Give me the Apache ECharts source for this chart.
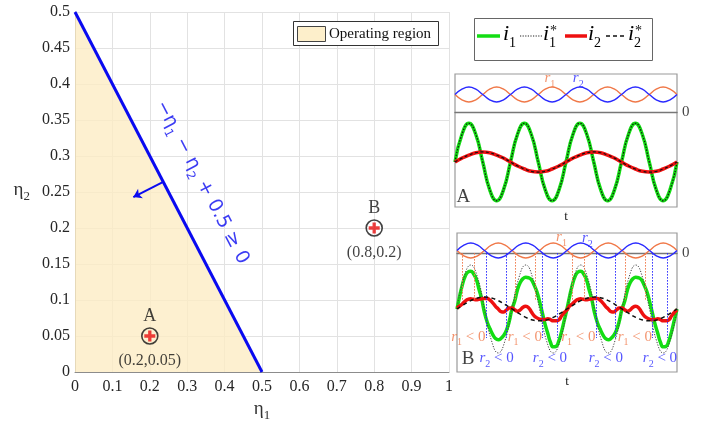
<!DOCTYPE html>
<html><head><meta charset="utf-8">
<script src="https://cdn.jsdelivr.net/npm/echarts@6/dist/echarts.min.js"></script>
<style>html,body{margin:0;padding:0;background:#fff}#c{width:701px;height:426px}</style>
</head><body><div id="c"></div>
<script>
// ---------------- main chart data ----------------
const boundaryEta1 = [0, 0.5];
const boundaryEta2 = [0.5, 0];
const normalArrow = [[0.236, 0.264], [0.156, 0.243]];
const pointNames = ['A', 'B'];
const pointEta1 = [0.2, 0.8];
const pointEta2 = [0.05, 0.2];

// ---------------- inset data (time in periods of i1*) ----------------
const tCoarse = [0,0.125,0.25,0.375,0.5,0.625,0.75,0.875,1,1.125,1.25,1.375,1.5,1.625,1.75,1.875,2,2.125,2.25,2.375,2.5,2.625,2.75,2.875,3,3.125,3.25,3.375,3.5,3.625,3.75,3.875,4];
// case A
const r1A = [1.75,1.22,1.0,1.22,1.75,2.28,2.5,2.28,1.75,1.22,1.0,1.22,1.75,2.28,2.5,2.28,1.75,1.22,1.0,1.22,1.75,2.28,2.5,2.28,1.75,1.22,1.0,1.22,1.75,2.28,2.5,2.28,1.75];
const r2A = [1.75,2.28,2.5,2.28,1.75,1.22,1.0,1.22,1.75,2.28,2.5,2.28,1.75,1.22,1.0,1.22,1.75,2.28,2.5,2.28,1.75,1.22,1.0,1.22,1.75,2.28,2.5,2.28,1.75,1.22,1.0,1.22,1.75];
const i1A = [0,0.71,1,0.71,0,-0.71,-1,-0.71,0,0.71,1,0.71,0,-0.71,-1,-0.71,0,0.71,1,0.71,0,-0.71,-1,-0.71,0,0.71,1,0.71,0,-0.71,-1,-0.71,0];
const i1RefA = [0,0.71,1,0.71,0,-0.71,-1,-0.71,0,0.71,1,0.71,0,-0.71,-1,-0.71,0,0.71,1,0.71,0,-0.71,-1,-0.71,0,0.71,1,0.71,0,-0.71,-1,-0.71,0];
const i2A = [0,0.10,0.18,0.24,0.26,0.24,0.18,0.10,0,-0.10,-0.18,-0.24,-0.26,-0.24,-0.18,-0.10,0,0.10,0.18,0.24,0.26,0.24,0.18,0.10,0,-0.10,-0.18,-0.24,-0.26,-0.24,-0.18,-0.10,0];
const i2RefA = [0,0.10,0.18,0.24,0.26,0.24,0.18,0.10,0,-0.10,-0.18,-0.24,-0.26,-0.24,-0.18,-0.10,0,0.10,0.18,0.24,0.26,0.24,0.18,0.10,0,-0.10,-0.18,-0.24,-0.26,-0.24,-0.18,-0.10,0];
// case B
const r1B = [0.25,-0.28,-0.5,-0.28,0.25,0.78,1.0,0.78,0.25,-0.28,-0.5,-0.28,0.25,0.78,1.0,0.78,0.25,-0.28,-0.5,-0.28,0.25,0.78,1.0,0.78,0.25,-0.28,-0.5,-0.28,0.25,0.78,1.0,0.78,0.25];
const r2B = [0.25,0.78,1.0,0.78,0.25,-0.28,-0.5,-0.28,0.25,0.78,1.0,0.78,0.25,-0.28,-0.5,-0.28,0.25,0.78,1.0,0.78,0.25,-0.28,-0.5,-0.28,0.25,0.78,1.0,0.78,0.25,-0.28,-0.5,-0.28,0.25];
const i1RefB = [0,0.71,1,0.71,0,-0.71,-1,-0.71,0,0.71,1,0.71,0,-0.71,-1,-0.71,0,0.71,1,0.71,0,-0.71,-1,-0.71,0,0.71,1,0.71,0,-0.71,-1,-0.71,0];
const i2RefB = [0,0.10,0.19,0.25,0.27,0.25,0.19,0.10,0,-0.10,-0.19,-0.25,-0.27,-0.25,-0.19,-0.10,0,0.10,0.19,0.25,0.27,0.25,0.19,0.10,0,-0.10,-0.19,-0.25,-0.27,-0.25,-0.19,-0.10,0];
const tFine = [0,0.05,0.1,0.15,0.2,0.25,0.3,0.35,0.4,0.45,0.5,0.55,0.6,0.65,0.7,0.75,0.8,0.85,0.9,0.95,
  1,1.05,1.1,1.15,1.2,1.25,1.3,1.35,1.4,1.45,1.5,1.55,1.6,1.65,1.7,1.75,1.8,1.85,1.9,1.95,
  2,2.05,2.1,2.15,2.2,2.25,2.3,2.35,2.4,2.45,2.5,2.55,2.6,2.65,2.7,2.75,2.8,2.85,2.9,2.95,
  3,3.05,3.1,3.15,3.2,3.25,3.3,3.35,3.4,3.45,3.5,3.55,3.6,3.65,3.7,3.75,3.8,3.85,3.9,3.95,4];
const i1B = [0,0.30,0.56,0.75,0.84,0.86,0.80,0.68,0.45,0.22,-0.08,-0.30,-0.45,-0.58,-0.67,-0.70,-0.67,-0.60,-0.48,-0.28,
  0,0.18,0.44,0.60,0.69,0.72,0.71,0.67,0.55,0.40,0.18,-0.08,-0.34,-0.55,-0.76,-0.86,-0.85,-0.73,-0.52,-0.26,
  0,0.30,0.56,0.75,0.84,0.86,0.80,0.68,0.45,0.22,-0.08,-0.30,-0.45,-0.58,-0.67,-0.70,-0.67,-0.60,-0.48,-0.28,
  0,0.18,0.44,0.60,0.69,0.72,0.71,0.67,0.55,0.40,0.18,-0.08,-0.34,-0.55,-0.76,-0.86,-0.85,-0.73,-0.52,-0.26,0];
const i2B = [0.02,0.07,0.12,0.18,0.22,0.23,0.22,0.21,0.22,0.23,0.24,0.24,0.20,0.14,0.06,0,-0.06,-0.07,-0.02,0.02,
  0.02,-0.02,-0.05,-0.02,0.04,0.06,0.03,-0.06,-0.15,-0.20,-0.23,-0.24,-0.24,-0.22,-0.24,-0.27,-0.27,-0.25,-0.16,-0.08,
  -0.02,0.07,0.12,0.18,0.22,0.23,0.22,0.21,0.22,0.23,0.24,0.24,0.20,0.14,0.06,0,-0.06,-0.07,-0.02,0.02,
  0.02,-0.02,-0.05,-0.02,0.04,0.06,0.03,-0.06,-0.15,-0.20,-0.23,-0.24,-0.24,-0.22,-0.24,-0.27,-0.27,-0.25,-0.16,-0.08,-0.02];
// intervals (t) where r1 < 0 and r2 < 0 in case B
const r1NegB = [[0.10,0.31],[1.05,1.42],[2.10,2.31],[3.05,3.42]];
const r2NegB = [[0.54,0.90],[1.55,1.83],[2.54,2.87],[3.55,3.83]];

// ---------------- styling ----------------
const SERIF = 'Liberation Serif';
const SANS = 'DejaVu Sans';
const BLUE = '#0a0af0', GREEN = '#13dd13', RED = '#ee1010', ORANGE = '#f07848', RBLUE = '#2a2aff';
const zip = (a, b) => a.map((v, i) => [v, b[i]]);
function tok(size, color, family, italic, pb) {
  return {fontSize: size, color: color, fontFamily: family, fontStyle: italic ? 'italic' : 'normal',
          verticalAlign: 'bottom', padding: [0, 0, pb || 0, 0]};
}
function subTok(size, color, family) {
  return {fontSize: size, color: color, fontFamily: family, verticalAlign: 'bottom', padding: [0, 0, 0, 0]};
}
function rLabelRich(color, size) {
  return {r: tok(size, color, SERIF, true, 3), s: subTok(Math.round(size * 0.68), color, SERIF), n: tok(size, color, SERIF, false, 3)};
}
function textPoint(grid, x, y, formatter, label, z) {
  return {type: 'scatter', xAxisIndex: grid, yAxisIndex: grid, symbolSize: 0, clip: false, silent: true, z: z || 6,
          data: [[x, y]], label: Object.assign({show: true, position: 'inside', formatter: formatter}, label)};
}
function hiddenX(grid, extra) {
  return Object.assign({gridIndex: grid, type: 'value', min: 0, max: 4, axisLine: {show: false}, axisTick: {show: false},
    axisLabel: {show: false}, splitLine: {show: false}}, extra || {});
}
function hiddenY(grid, min, max) {
  return {gridIndex: grid, type: 'value', min: min, max: max, show: false, splitLine: {show: false}};
}

const chart = echarts.init(document.getElementById('c'), null, {renderer: 'canvas'});

const series = [];
// ---- main chart ----
series.push({
  type: 'line', xAxisIndex: 0, yAxisIndex: 0, data: zip(boundaryEta1, boundaryEta2), symbol: 'none', z: 3,
  lineStyle: {color: BLUE, width: 3}, areaStyle: {color: '#fcecc4', opacity: 0.8, origin: 'start'},
  markLine: {silent: true, symbol: ['none', 'arrow'], symbolSize: 8, label: {show: false},
    lineStyle: {color: BLUE, width: 2, type: 'solid'},
    data: [[{coord: normalArrow[0]}, {coord: normalArrow[1]}]]}
});
series.push({
  type: 'scatter', xAxisIndex: 0, yAxisIndex: 0, data: zip(pointEta1, pointEta2), symbol: 'circle', symbolSize: 16, z: 5,
  itemStyle: {color: 'rgba(0,0,0,0)', borderColor: '#111', borderWidth: 1.6},
  label: {show: true, position: 'top', distance: 2, formatter: p => pointNames[p.dataIndex],
          fontFamily: SERIF, fontSize: 18, color: '#111'}
});
series.push({
  type: 'scatter', xAxisIndex: 0, yAxisIndex: 0, data: zip(pointEta1, pointEta2), z: 6,
  symbol: 'path://M3.5,0H6.5V3.5H10V6.5H6.5V10H3.5V6.5H0V3.5H3.5Z', symbolSize: 11,
  itemStyle: {color: '#e81010'},
  label: {show: true, position: 'bottom', distance: 11, formatter: p => '(' + p.value[0] + ',' + p.value[1] + ')',
          fontFamily: SERIF, fontSize: 16, color: '#111'}
});
series.push(textPoint(0, 0.335, 0.262, '{a|−η}{s|1}{a| − η}{s|2}{a| + 0.5 ≥ 0}', {
  rotate: -62.5,
  rich: {a: tok(19, BLUE, SANS, false, 4), s: subTok(12, BLUE, SANS)}
}));

// ---- inset A ----
const lineBase = (xi, x, y, color, width, type, z) => ({
  type: 'line', xAxisIndex: xi, yAxisIndex: xi, data: zip(x, y), symbol: 'none', smooth: 0.5, z: z,
  lineStyle: {color: color, width: width, type: type || 'solid'}, silent: true
});
series.push(lineBase(2, tCoarse, r1A, ORANGE, 1.4, 'solid', 3));
series.push(lineBase(2, tCoarse, r2A, RBLUE, 1.4, 'solid', 3));
series.push(lineBase(1, tCoarse, i1A, GREEN, 3.5, 'solid', 3));
series.push(lineBase(1, tCoarse, i1RefA, '#111', 1.2, [1.5, 1.5], 4));
series.push(lineBase(1, tCoarse, i2A, RED, 3.5, 'solid', 4));
series.push(lineBase(1, tCoarse, i2RefA, '#111', 1.2, [3, 2.5], 5));
series.push(textPoint(1, 0.15, -0.89, 'A', {fontFamily: SERIF, fontSize: 19, color: '#111'}));
series.push(textPoint(2, 1.71, 3.2, '{r|r}{s|1}', {rich: rLabelRich(ORANGE, 15)}));
series.push(textPoint(2, 2.22, 3.2, '{r|r}{s|2}', {rich: rLabelRich(RBLUE, 15)}));
series.push(textPoint(2, 4, 0, '0', {position: 'right', distance: 5, fontFamily: SERIF, fontSize: 15, color: '#111'}));

// ---- inset B ----
const negLines = (ints, yTop, yBot) => {
  const out = [];
  ints.forEach(iv => iv.forEach(t => out.push([{coord: [t, yTop]}, {coord: [t, yBot]}])));
  return out;
};
const i1RefBSeries = lineBase(3, tCoarse, i1RefB, '#444', 1, [1.2, 1.5], 4);
series.push(lineBase(4, tCoarse, r1B, ORANGE, 1.4, 'solid', 3));
series.push(lineBase(4, tCoarse, r2B, RBLUE, 1.4, 'solid', 3));
series.push(lineBase(3, tFine, i1B, GREEN, 3.5, 'solid', 3));
i1RefBSeries.markLine = {silent: true, symbol: 'none', label: {show: false},
  lineStyle: {color: ORANGE, width: 1, type: [1.5, 1.5]}, data: negLines(r1NegB, 1.27, 0.2)};
series.push(i1RefBSeries);
const i2BSeries = lineBase(3, tFine, i2B, RED, 3.5, 'solid', 4);
i2BSeries.markLine = {silent: true, symbol: 'none', label: {show: false},
  lineStyle: {color: RBLUE, width: 1, type: [1.5, 1.5]}, data: negLines(r2NegB, 1.27, -0.66)};
series.push(i2BSeries);
series.push(lineBase(3, tCoarse, i2RefB, '#111', 1.5, [4, 3.5], 5));
series.push(textPoint(3, 0.2, -1.13, 'B', {fontFamily: SERIF, fontSize: 19, color: '#111'}));
series.push(textPoint(4, 1.9, 1.4, '{r|r}{s|1}', {rich: rLabelRich(ORANGE, 15)}));
series.push(textPoint(4, 2.37, 1.3, '{r|r}{s|2}', {rich: rLabelRich(RBLUE, 15)}));
series.push(textPoint(4, 4, 0, '0', {position: 'right', distance: 5, fontFamily: SERIF, fontSize: 15, color: '#111'}));
r1NegB.forEach(iv => series.push(textPoint(3, (iv[0] + iv[1]) / 2, -0.67, '{r|r}{s|1}{n| < 0}', {rich: rLabelRich(ORANGE, 15)})));
r2NegB.forEach(iv => series.push(textPoint(3, (iv[0] + iv[1]) / 2, -1.16, '{r|r}{s|2}{n| < 0}', {rich: rLabelRich(RBLUE, 15)})));

const smallName = {fontFamily: SERIF, fontSize: 13, color: '#222'};
const box = {show: true, borderColor: '#9a9a9a', borderWidth: 1.2, backgroundColor: 'rgba(0,0,0,0)', outerBoundsMode: 'none', containLabel: false};
const legendText = (x, main, sub) => ({
  type: 'text', x: x, y: 37, z: 100,
  style: {text: '{i|' + main + '}{s|' + sub + '}', verticalAlign: 'middle', align: 'left',
    rich: {i: tok(22, '#111', SERIF, true, 5), s: subTok(14, '#111', SERIF)}}
});
const legendStar = x => ({type: 'text', x: x, y: 31, z: 101,
  style: {text: '*', fontFamily: SERIF, fontSize: 14, fill: '#111', verticalAlign: 'middle', align: 'left'}});

chart.setOption({
  animation: false,
  backgroundColor: '#fff',
  grid: [
    {left: 75, top: 12, width: 374, height: 360, outerBoundsMode: 'none', containLabel: false},
    Object.assign({left: 455, top: 74, width: 222, height: 133}, box),
    {left: 455, top: 74, width: 222, height: 38, outerBoundsMode: 'none', containLabel: false},
    Object.assign({left: 457, top: 233, width: 220, height: 139}, box),
    {left: 457, top: 233, width: 220, height: 30, outerBoundsMode: 'none', containLabel: false}
  ],
  xAxis: [
    {gridIndex: 0, type: 'value', min: 0, max: 1, interval: 0.1,
     axisLine: {show: true, onZero: false, lineStyle: {color: '#8c8c8c', width: 1}},
     axisTick: {show: false}, splitLine: {show: true, lineStyle: {color: '#e2e2e2', width: 1}},
     axisLabel: {fontFamily: SERIF, fontSize: 16, color: '#262626', margin: 7, showMinLabel: true, showMaxLabel: true},
     name: '{e|η}{s|1}', nameLocation: 'middle', nameGap: 28,
     nameTextStyle: {rich: {e: tok(19, '#333', SERIF, false, 3), s: subTok(13, '#333', SERIF)}}},
    hiddenX(1, {name: 't', nameLocation: 'middle', nameGap: 3, nameTextStyle: smallName}),
    hiddenX(2, {axisLine: {show: true, onZero: true, lineStyle: {color: '#777', width: 1.4}}}),
    hiddenX(3, {name: 't', nameLocation: 'middle', nameGap: 3, nameTextStyle: smallName}),
    hiddenX(4, {axisLine: {show: true, onZero: true, lineStyle: {color: '#777', width: 1.4}}})
  ],
  yAxis: [
    {gridIndex: 0, type: 'value', min: 0, max: 0.5, interval: 0.05,
     axisLine: {show: true, onZero: false, lineStyle: {color: '#8c8c8c', width: 1}},
     axisTick: {show: false}, splitLine: {show: true, lineStyle: {color: '#e2e2e2', width: 1}},
     axisLabel: {fontFamily: SERIF, fontSize: 16, color: '#262626', margin: 5, showMinLabel: true, showMaxLabel: true},
     name: '{e|η}{s|2}', nameLocation: 'middle', nameGap: 45, nameRotate: 0,
     nameTextStyle: {rich: {e: tok(19, '#333', SERIF, false, 3), s: subTok(13, '#333', SERIF)}}},
    hiddenY(1, -1.16, 2.27),
    hiddenY(2, 0, 3.8),
    hiddenY(3, -1.432, 1.727),
    hiddenY(4, -1, 2)
  ],
  series: series,
  graphic: [
    {type: 'rect', z: 100, shape: {x: 293.5, y: 21.5, width: 145, height: 24}, style: {fill: '#fff', stroke: '#333', lineWidth: 1}},
    {type: 'rect', z: 101, shape: {x: 297.5, y: 26.5, width: 28, height: 15}, style: {fill: '#fdefcb', stroke: '#444', lineWidth: 1}},
    {type: 'text', z: 101, x: 329, y: 34, style: {text: 'Operating region', fontFamily: SERIF, fontSize: 15, fill: '#111', verticalAlign: 'middle', align: 'left'}},
    {type: 'rect', z: 100, shape: {x: 474.5, y: 18.5, width: 178, height: 42}, style: {fill: '#fff', stroke: '#666', lineWidth: 1}},
    {type: 'line', z: 101, shape: {x1: 477, y1: 36, x2: 500, y2: 36}, style: {stroke: GREEN, lineWidth: 3.5}},
    legendText(503, 'i', '1'),
    {type: 'line', z: 101, shape: {x1: 520, y1: 36, x2: 542, y2: 36}, style: {stroke: '#222', lineWidth: 1.2, lineDash: [1.2, 1.4]}},
    legendText(543, 'i', '1'),
    legendStar(550),
    {type: 'line', z: 101, shape: {x1: 565, y1: 36, x2: 587, y2: 36}, style: {stroke: RED, lineWidth: 3.5}},
    legendText(588, 'i', '2'),
    {type: 'line', z: 101, shape: {x1: 606, y1: 36, x2: 626, y2: 36}, style: {stroke: '#111', lineWidth: 1.5, lineDash: [4, 3]}},
    legendText(628, 'i', '2'),
    legendStar(635)
  ]
});
</script>
</body></html>
